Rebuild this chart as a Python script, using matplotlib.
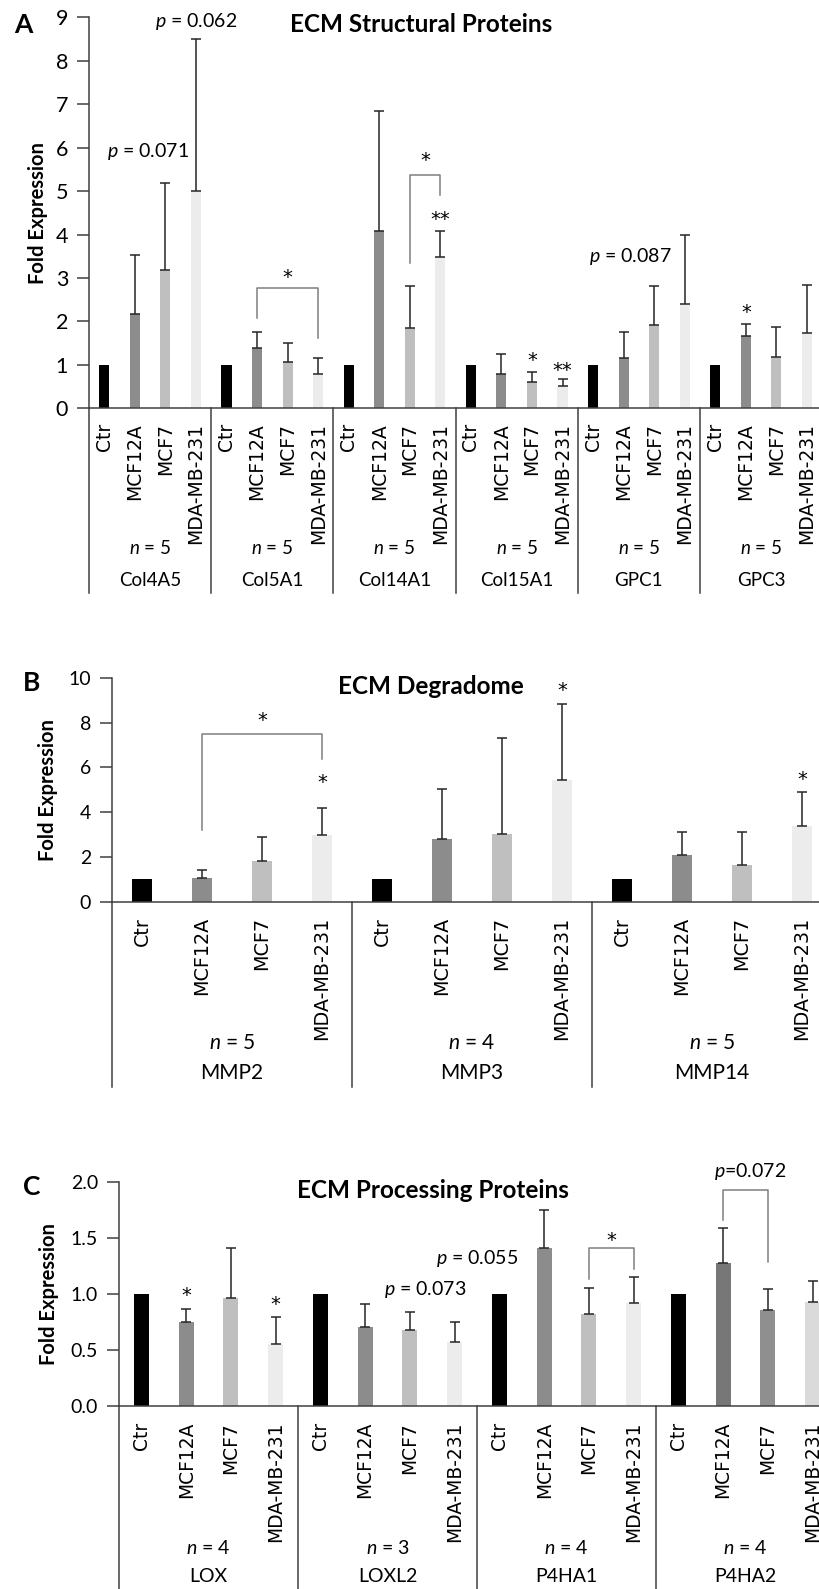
import matplotlib
matplotlib.use('Agg')
import matplotlib.pyplot as plt
from matplotlib import transforms
from matplotlib.lines import Line2D

plt.rcParams['font.family'] = ['Lato', 'DejaVu Sans']
plt.rcParams['mathtext.fontset'] = 'custom'
plt.rcParams['mathtext.it'] = 'Lato:italic'
plt.rcParams['mathtext.rm'] = 'Lato'

W, H = 819, 1589

cell_lines = ['Ctr', 'MCF12A', 'MCF7', 'MDA-MB-231']

# ---- panel A: ECM structural proteins
a_genes = ['Col4A5', 'Col5A1', 'Col14A1', 'Col15A1', 'GPC1', 'GPC3']
a_n = [5, 5, 5, 5, 5, 5]
a_ctr = [1, 1, 1, 1, 1, 1]
a_mcf12a = [2.17, 1.39, 4.08, 0.78, 1.15, 1.67]
a_mcf7 = [3.19, 1.07, 1.85, 0.60, 1.92, 1.19]
a_mda = [5.00, 0.79, 3.49, 0.52, 2.40, 1.74]
a_mcf12a_err = [1.35, 0.36, 2.77, 0.46, 0.61, 0.27]
a_mcf7_err = [1.99, 0.44, 0.97, 0.24, 0.90, 0.68]
a_mda_err = [3.50, 0.36, 0.58, 0.15, 1.59, 1.10]
a_stars = [('*', 6.5, 3.11), ('*', 11.0, 5.8), ('**', 11.5, 4.45),
           ('*', 14.5, 1.2), ('**', 15.5, 0.97), ('*', 21.5, 2.3)]
a_brackets = [(5.5, 7.5, 2.78, 2.08, 1.62), (10.5, 11.5, 5.37, 3.35, 4.9)]
a_pvals = [('$p$ = 0.071', 1.93, 5.92), ('$p$ = 0.062', 3.5, 8.9), ('$p$ = 0.087', 17.73, 3.49)]

# ---- panel B: ECM degradome
b_genes = ['MMP2', 'MMP3', 'MMP14']
b_n = [5, 4, 5]
b_ctr = [1, 1, 1]
b_mcf12a = [1.04, 2.78, 2.07]
b_mcf7 = [1.82, 3.02, 1.62]
b_mda = [2.98, 5.43, 3.38]
b_mcf12a_err = [0.37, 2.25, 1.06]
b_mcf7_err = [1.05, 4.29, 1.51]
b_mda_err = [1.22, 3.38, 1.53]
b_stars = [('*', 2.5, 8.3), ('*', 3.5, 5.5), ('*', 7.5, 9.6), ('*', 11.5, 5.65)]
b_brackets = [(1.5, 3.5, 7.49, 3.2, 6.37)]
b_pvals = []

# ---- panel C: ECM processing proteins
c_genes = ['LOX', 'LOXL2', 'P4HA1', 'P4HA2']
c_n = [4, 3, 4, 4]
c_ctr = [1, 1, 1, 1]
c_mcf12a = [0.747, 0.70, 1.41, 1.27]
c_mcf7 = [0.958, 0.676, 0.815, 0.851]
c_mda = [0.55, 0.568, 0.917, 0.926]
c_mcf12a_err = [0.12, 0.21, 0.34, 0.32]
c_mcf7_err = [0.45, 0.16, 0.235, 0.19]
c_mda_err = [0.245, 0.18, 0.23, 0.19]
c_stars = [('*', 1.5, 1.02), ('*', 3.5, 0.94), ('*', 11.0, 1.515)]
c_brackets = [(10.5, 11.5, 1.405, 1.134, 1.22), (13.5, 14.5, 1.93, 1.66, 1.286)]
c_pvals = [('$p$ = 0.073', 6.84, 1.04), ('$p$ = 0.055', 8.0, 1.31), ('$p$=0.072', 14.1, 2.09)]

grays = ['#000000', '#8c8c8c', '#bfbfbf', '#ececec']
grays_p4ha2 = ['#000000', '#777777', '#8f8f8f', '#dadada']
axis_col = '#404040'

fig = plt.figure(figsize=(W / 100, H / 100), dpi=100)


def fy(ypx):
    return 1 - ypx / H


def panel(l, r, top, bottom, ylim, yticks, yfmt, tick_fs,
          genes, ns, series, errs, colors, stars, brackets, pvals,
          lab_top, lab_fs, n_y, gene_y, gene_fs, sep_end):
    ax = fig.add_axes([l / W, fy(bottom), (r - l) / W, (bottom - top) / H])
    ng = len(genes)
    for k in range(4):
        xs = [4 * g + k + 0.5 for g in range(ng)]
        cols = [colors[g][k] for g in range(ng)]
        ax.bar(xs, series[k], width=0.33, color=cols, zorder=2)
        if k > 0:
            ax.errorbar(xs, series[k], yerr=[[0] * ng, errs[k - 1]], fmt='none',
                        ecolor='#262626', elinewidth=1.1, capsize=3.6, capthick=1.1, zorder=3)
    ax.set_xlim(0, 4 * ng)
    ax.set_ylim(*ylim)
    ax.set_yticks(yticks)
    ax.set_yticklabels([yfmt.format(t) for t in yticks], fontsize=tick_fs)
    ax.set_xticks([])
    for s in ['top', 'right']:
        ax.spines[s].set_visible(False)
    for s in ['left', 'bottom']:
        ax.spines[s].set_color(axis_col)
        ax.spines[s].set_linewidth(1.1)
    ax.tick_params(axis='y', length=9, width=1.1, color=axis_col, pad=6)
    ax.patch.set_alpha(0)

    tr = transforms.blended_transform_factory(ax.transData, fig.transFigure)
    for g in range(ng):
        for k in range(4):
            ax.text(4 * g + k + 0.5, fy(lab_top), cell_lines[k], rotation=90, ha='center',
                    va='top', fontsize=lab_fs, family='DejaVu Sans', transform=tr)
        ax.text(4 * g + 2, fy(n_y), '$n$ = %d' % ns[g], ha='center', va='center',
                fontsize=gene_fs, transform=tr)
        ax.text(4 * g + 2, fy(gene_y), genes[g], ha='center', va='center',
                fontsize=gene_fs, transform=tr)
    for g in range(ng + 1):
        ax.add_line(Line2D([4 * g, 4 * g], [fy(bottom), fy(sep_end)], color=axis_col,
                           lw=1.1, transform=tr, clip_on=False))

    for x1, x2, yt, y1, y2 in brackets:
        ax.plot([x1, x1, x2, x2], [y1, yt, yt, y2], color='#7f7f7f', lw=1.1, clip_on=False)
    for txt, x, y in stars:
        ax.annotate(txt, (x, y), xytext=(0, -7), textcoords='offset points', ha='center',
                    va='baseline', fontsize=14, family='DejaVu Sans', annotation_clip=False)
    for txt, x, y in pvals:
        ax.text(x, y, txt, ha='center', va='center', fontsize=14, clip_on=False)
    return ax


panel(89, 89 + 24 * 30.55, 17.3, 408.3, (0, 9), list(range(10)), '{:d}', 15.5,
      a_genes, a_n, [a_ctr, a_mcf12a, a_mcf7, a_mda],
      [a_mcf12a_err, a_mcf7_err, a_mda_err], [grays] * 6,
      a_stars, a_brackets, a_pvals, 423, 13.5, 548, 580, 13.5, 593)

panel(112, 112 + 12 * 60, 677.7, 901.7, (0, 10), [0, 2, 4, 6, 8, 10], '{:d}', 14,
      b_genes, b_n, [b_ctr, b_mcf12a, b_mcf7, b_mda],
      [b_mcf12a_err, b_mcf7_err, b_mda_err], [grays] * 3,
      b_stars, b_brackets, b_pvals, 917, 13.8, 1043, 1073, 15, 1087)

panel(119, 119 + 16 * 44.75, 1181.7, 1405.7, (0, 2), [0, 0.5, 1.0, 1.5, 2.0], '{:.1f}', 14,
      c_genes, c_n, [c_ctr, c_mcf12a, c_mcf7, c_mda],
      [c_mcf12a_err, c_mcf7_err, c_mda_err], [grays, grays, grays, grays_p4ha2],
      c_stars, c_brackets, c_pvals, 1422, 13.4, 1548, 1577, 14, 1600)

# panel letters, titles, y labels
for letter, x, y in [('A', 23, 25), ('B', 32, 683), ('C', 32, 1187)]:
    fig.text(x / W, fy(y), letter, ha='center', va='center', fontsize=19, fontweight='bold')
for title, x, y in [('ECM Structural Proteins', 421, 25), ('ECM Degradome', 431, 687),
                    ('ECM Processing Proteins', 433, 1190)]:
    fig.text(x / W, fy(y), title, ha='center', va='center', fontsize=17.5, fontweight='bold')
for x, y in [(38, 213), (48, 790), (49, 1294)]:
    fig.text(x / W, fy(y), 'Fold Expression', rotation=90, ha='center', va='center',
             fontsize=14.5, fontweight='bold')

fig.savefig('out.png', dpi=100)
